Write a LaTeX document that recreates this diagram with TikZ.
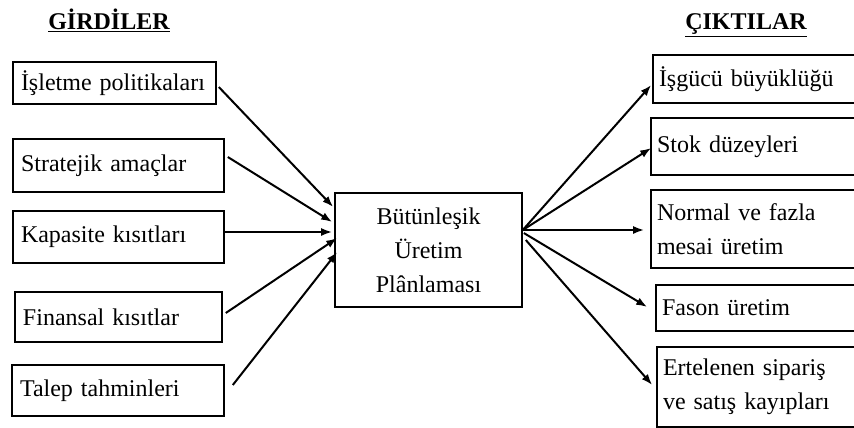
\documentclass[tikz,border=0pt]{standalone}
\usepackage{fontspec}
\setmainfont{Liberation Serif}
\usetikzlibrary{arrows.meta}
\tikzstyle{baslik} = [font=\fontsize{24}{28}\selectfont\bfseries, inner sep=0pt, anchor=base]
\tikzstyle{kutu} = [rectangle, draw=black, line width=1.6pt, inner xsep=8pt, inner ysep=0pt, align=left, font=\fontsize{24}{34}\selectfont, execute at begin node={\hyphenpenalty=10000}]
\tikzstyle{cikti} = [kutu, inner xsep=6pt]
\tikzstyle{merkez} = [kutu, align=center]
\tikzstyle{ok} = [line width=2pt, -{Latex[length=11pt,width=8pt]}]

\begin{document}
\begin{tikzpicture}[x=1pt, y=-1pt]
	\useasboundingbox (0,0) rectangle (854,428);
	\clip (0,0) rectangle (854,428);
	\fill[white] (0,0) rectangle (854,428);
	% basliklar
	\node[baslik] (gir) at (109,30) {\underline{GİRDİLER}};
	\node[baslik] (cik) at (746,30) {\underline{ÇIKTILAR}};
	% girdiler
	\node[kutu, text width=187pt, minimum height=42pt] (pol) at (114.5,83) {İşletme~politikaları};
	\node[kutu, text width=195pt, minimum height=53pt] (str) at (118.5,165.5) {Stratejik amaçlar};
	\node[kutu, text width=195pt, minimum height=52pt] (kap) at (118.5,237) {Kapasite kısıtları};
	\node[kutu, text width=191pt, minimum height=50pt] (fin) at (118.5,317) {Finansal kısıtlar};
	\node[kutu, text width=196pt, minimum height=51pt] (tal) at (118,390.5) {Talep tahminleri};
	% merkez
	\node[merkez, text width=171pt, minimum height=114pt] (ctr) at (428.5,250) {Bütünleşik\\Üretim\\Plânlaması};
	% ciktilar
	\node[cikti, text width=197pt, minimum height=48pt] (isg) at (757.5,79) {İşgücü~büyüklüğü};
	\node[cikti, text width=199pt, minimum height=57pt] (stk) at (756.5,146.5) {Stok düzeyleri};
	\node[cikti, text width=199pt, minimum height=78pt] (nor) at (756.5,229) {Normal ve fazla\\mesai üretim};
	\node[cikti, text width=194pt, minimum height=46pt] (fas) at (759,308) {Fason üretim};
	\node[cikti, text width=193pt, minimum height=80pt] (ert) at (759.5,387) {Ertelenen sipariş\\ve satış kayıpları};
	% oklar
	\draw[ok] ([xshift=2pt,yshift=-4pt]pol.east) -- ([xshift=-1pt,yshift=43pt]ctr.west);
	\draw[ok] ([xshift=3pt,yshift=8.5pt]str.east) -- ([xshift=-2pt,yshift=28pt]ctr.west);
	\draw[ok] ([yshift=5pt]kap.east) -- ([xshift=-2pt,yshift=18pt]ctr.west);
	\draw[ok] ([xshift=3pt,yshift=4pt]fin.east) -- ([xshift=3pt,yshift=12pt]ctr.west);
	\draw[ok] ([xshift=8pt,yshift=5.5pt]tal.east) -- ([xshift=3pt,yshift=-2pt]ctr.west);
	\draw[ok] ([yshift=20pt]ctr.east) -- ([xshift=-1pt,yshift=-6pt]isg.west);
	\draw[ok] ([yshift=20pt]ctr.east) -- ([xshift=1pt,yshift=-1.5pt]stk.west);
	\draw[ok] ([yshift=20pt]ctr.east) -- ([xshift=-6pt,yshift=-1pt]nor.west);
	\draw[ok] ([xshift=1pt,yshift=17pt]ctr.east) -- ([xshift=-8pt,yshift=1pt]fas.west);
	\draw[ok] ([xshift=3pt,yshift=10pt]ctr.east) -- ([xshift=-4pt,yshift=2pt]ert.west);
\end{tikzpicture}
\end{document}
